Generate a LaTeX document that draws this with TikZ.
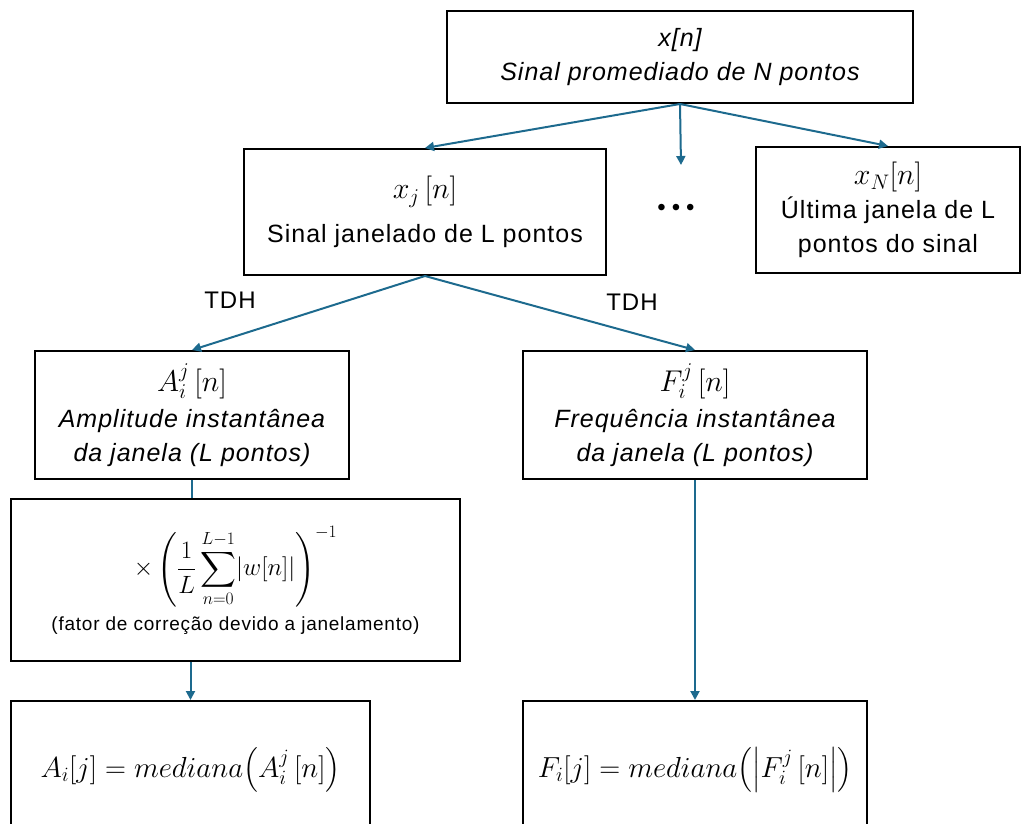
\RequirePackage{fix-cm}
\documentclass[tikz,border=0pt]{standalone}
\usepackage{amsmath}
\usepackage{fontspec}
\setmainfont[LetterSpace=4]{Liberation Sans}
\usetikzlibrary{arrows.meta,positioning}
\definecolor{Flow}{HTML}{1D6A8E}
\tikzset{box/.style={draw=black,line width=2pt,align=center,inner sep=2pt,font=\fontsize{25}{34}\selectfont},flow/.style={-{Triangle[length=9pt,width=9pt]},line width=2pt,draw=Flow},link/.style={line width=2pt,draw=Flow},lbl/.style={font=\fontsize{24}{30}\selectfont}}
\newcommand{\bigmath}{\fontsize{30}{32}\selectfont}

\begin{document}
\begin{tikzpicture}[x=1pt,y=-1pt]
      \clip(0,0)rectangle(1021,824);
      \useasboundingbox(0,0)rectangle(1021,824);
      \node[box,minimum width=466pt,minimum height=92pt](signal)at(680,57){\itshape x[n]\\\itshape Sinal promediado de N pontos};
      \node[box,minimum width=362pt,minimum height=126pt](window)at(425,212){{\bigmath$x_j\,[n]$}\\[10pt]Sinal janelado de L pontos};
      \node[box,minimum width=264pt,minimum height=126pt](last)at(888,210){{\bigmath$x_N[n]$}\\Última janela de L\\pontos do sinal};
      \node[lbl](dots)at(676,210){\textbullet\hspace{6pt}\textbullet\hspace{6pt}\textbullet};
      \coordinate(dotsin)at(681,165);
      \node[box,minimum width=314pt,minimum height=128pt](amp)at(192,415){{\bigmath$A_i^j\,[n]$}\\[2pt]\itshape Amplitude instantânea\\\itshape da janela (L pontos)};
      \node[box,minimum width=344pt,minimum height=128pt](freq)at(695,415){{\bigmath$F_i^j\,[n]$}\\[2pt]\itshape Frequência instantânea\\\itshape da janela (L pontos)};
      \node[box,minimum width=449pt,minimum height=162pt,font=\fontsize{19}{22}\selectfont](corr)at(235.5,580){\fontsize{25}{29}\selectfont$\displaystyle\times\left(\frac{1}{L}\sum_{n=0}^{L-1}\lvert w[n]\rvert\right)^{-1}$\\[8pt](fator de correção devido a janelamento)};
      \node[box,minimum width=359pt,minimum height=138pt,font=\fontsize{29}{32}\selectfont](ampmed)at(190.5,770){$A_i[j]=mediana\bigl(A_i^j\,[n]\bigr)$};
      \node[box,minimum width=344pt,minimum height=138pt,font=\fontsize{29}{32}\selectfont](freqmed)at(695,770){$F_i[j]=mediana\bigl(\bigl\lvert F_i^j\,[n]\bigr\rvert\bigr)$};
      \node[lbl](tdhA)at(230,300){TDH};
      \node[lbl](tdhF)at(632,302){TDH};
      \draw[flow](signal.south)--(window.north);\draw[flow](signal.south)--(dotsin);\draw[flow](signal.south)--(last.north);
      \draw[flow](window.south)--(amp.north);\draw[flow](window.south)--(freq.north);
      \draw[link](amp.south)--(amp.south|-corr.north);
      \draw[flow](ampmed.north|-corr.south)--(ampmed.north);
      \draw[flow](freq.south)--(freqmed.north);
    \end{tikzpicture}
\end{document}
